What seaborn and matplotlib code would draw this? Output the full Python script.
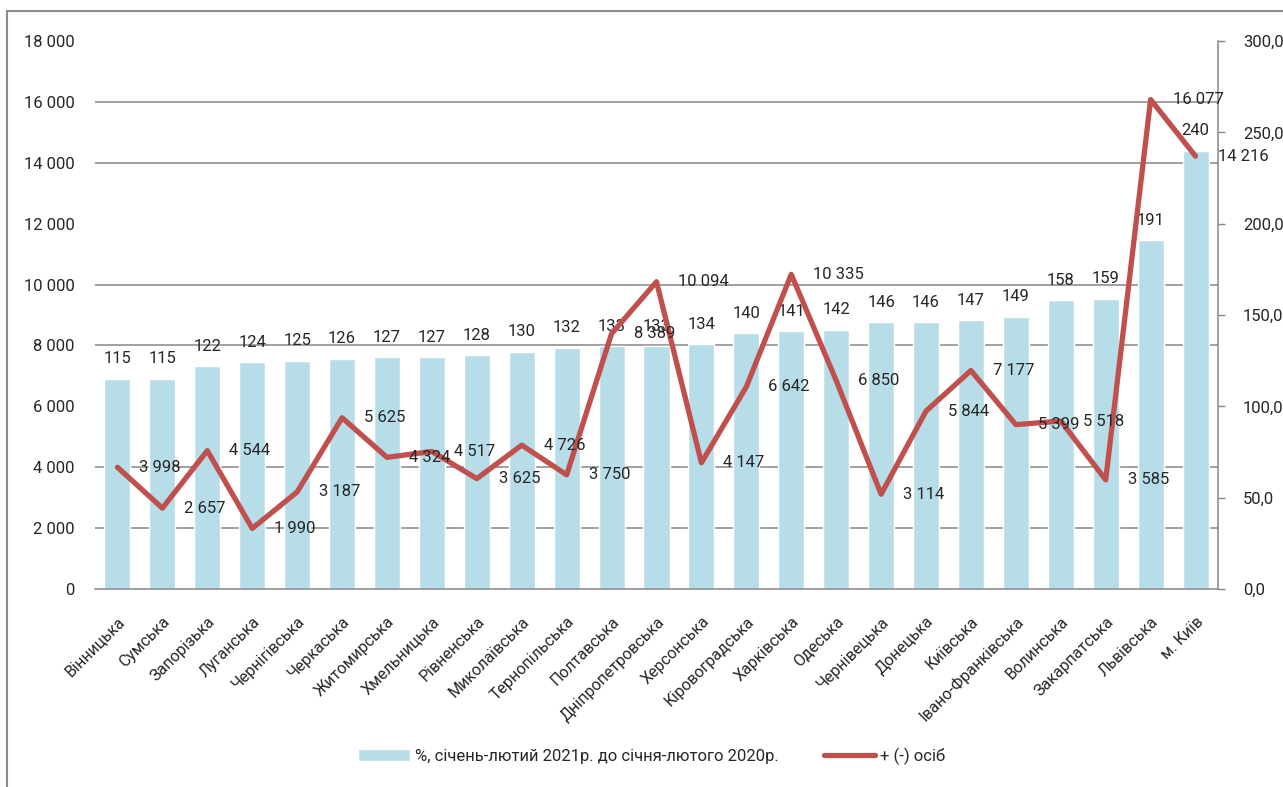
import numpy as np
import pandas as pd
import matplotlib
matplotlib.use("Agg")
import matplotlib.pyplot as plt
import matplotlib.ticker as mticker
from matplotlib.patches import Rectangle
import seaborn as sns

# Дані
regions = ['Вінницька', 'Сумська', 'Запорізька', 'Луганська', 'Чернігівська', 'Черкаська',
           'Житомирська', 'Хмельницька', 'Рівненська', 'Миколаївська', 'Тернопільська',
           'Полтавська', 'Дніпропетровська', 'Херсонська', 'Кіровоградська', 'Харківська',
           'Одеська', 'Чернівецька', 'Донецька', 'Київська', 'Івано-Франківська',
           'Волинська', 'Закарпатська', 'Львівська', 'м. Київ']
pct = [115, 115, 122, 124, 125, 126, 127, 127, 128, 130, 132, 133, 133, 134, 140,
       141, 142, 146, 146, 147, 149, 158, 159, 191, 240]
persons = [3998, 2657, 4544, 1990, 3187, 5625, 4324, 4517, 3625, 4726, 3750, 8389,
           10094, 4147, 6642, 10335, 6850, 3114, 5844, 7177, 5399, 5518, 3585,
           16077, 14216]

bar_label = '%, січень-лютий 2021р. до січня-лютого 2020р.'
line_label = '+ (-) осіб'

df = pd.DataFrame({'region': regions, 'pct': pct, 'persons': persons})

sns.set_style('white')
plt.rcParams['font.family'] = ['Roboto', 'DejaVu Sans']

fig = plt.figure(figsize=(12.83, 7.87), dpi=100)
ax_bar = fig.add_axes([95 / 1283, 1 - 589 / 787, (1218 - 95) / 1283, (589 - 41) / 787])

# стовпці (права вісь, %)
sns.barplot(data=df, x='region', y='pct', color='#B7DEE8', saturation=1, width=0.58,
            ax=ax_bar, label=bar_label, zorder=2)
ax_bar.set_xlabel('')
ax_bar.set_ylabel('')
ax_bar.bar_label(ax_bar.containers[0], labels=[str(v) for v in pct], padding=9, fontsize=12)

# лінія (ліва вісь, осіб)
ax_line = ax_bar.twinx()
sns.lineplot(data=df, x='region', y='persons', color='#C0504D', linewidth=3.8,
             ax=ax_line, label=line_label, sort=False)
ax_line.set_ylim(0, 18000)
ax_line.yaxis.tick_left()
ax_line.yaxis.set_label_position('left')
ax_line.set_yticks(np.arange(0, 18001, 2000))
ax_line.yaxis.set_major_formatter(mticker.FuncFormatter(lambda v, p: f'{int(v):,}'.replace(',', ' ')))
ax_line.tick_params(axis='y', left=False, right=False, labelleft=True, labelright=False,
                    labelsize=12, pad=11)
ax_line.set_ylabel('')
ax_line.set_xlabel('')
for side in ax_line.spines:
    ax_line.spines[side].set_visible(False)

for i, v in enumerate(persons):
    ax_line.annotate(f'{v:,}'.replace(',', ' '), (i, v), xytext=(22, 0),
                     textcoords='offset pixels', ha='left', va='center', fontsize=12)

# права вісь для стовпців (після twinx)
ax_bar.set_ylim(0, 300)
ax_bar.yaxis.tick_right()
ax_bar.yaxis.set_label_position('right')
ax_bar.set_yticks(np.arange(0, 301, 50))
ax_bar.yaxis.set_major_formatter(mticker.FuncFormatter(lambda v, p: f'{v:.1f}'.replace('.', ',')))
ax_bar.set_yticks(np.arange(0, 301, 300 / 9), minor=True)
ax_bar.grid(which='minor', axis='y', color='#868686', linewidth=1.1)
ax_bar.set_axisbelow(True)
ax_bar.tick_params(axis='y', which='major', left=False, right=True, labelleft=False,
                   labelright=True, length=5, width=1, color='#868686', labelsize=12, pad=13)
ax_bar.tick_params(axis='y', which='minor', length=0)

ax_bar.set_xticks(range(len(regions)))
ax_bar.set_xticklabels(regions, rotation=45, ha='right', rotation_mode='anchor', fontsize=11.5)
ax_bar.tick_params(axis='x', length=0, pad=18)
ax_bar.set_xlim(-0.5, len(regions) - 0.5)

for side in ['top', 'left']:
    ax_bar.spines[side].set_visible(False)
for side in ['right', 'bottom']:
    ax_bar.spines[side].set_color('#868686')
    ax_bar.spines[side].set_linewidth(1.1)

if ax_line.get_legend():
    ax_line.get_legend().remove()
if ax_bar.get_legend():
    ax_bar.get_legend().remove()

# легенда
h1, l1 = ax_bar.get_legend_handles_labels()
h2, l2 = ax_line.get_legend_handles_labels()
fig.legend(h1 + h2, l1 + l2, loc='center', bbox_to_anchor=(0.508, 1 - 756 / 787), ncol=2,
           frameon=False, fontsize=12, handlelength=3.1, columnspacing=2.7,
           handletextpad=0.3)

# рамка
fig.patches.append(Rectangle((7 / 1283, -0.01), 1.0, 1 - 11 / 787 + 0.01,
                             transform=fig.transFigure, fill=False,
                             edgecolor='#8c8c8c', linewidth=1.5))

fig.savefig('out.png', dpi=100)
